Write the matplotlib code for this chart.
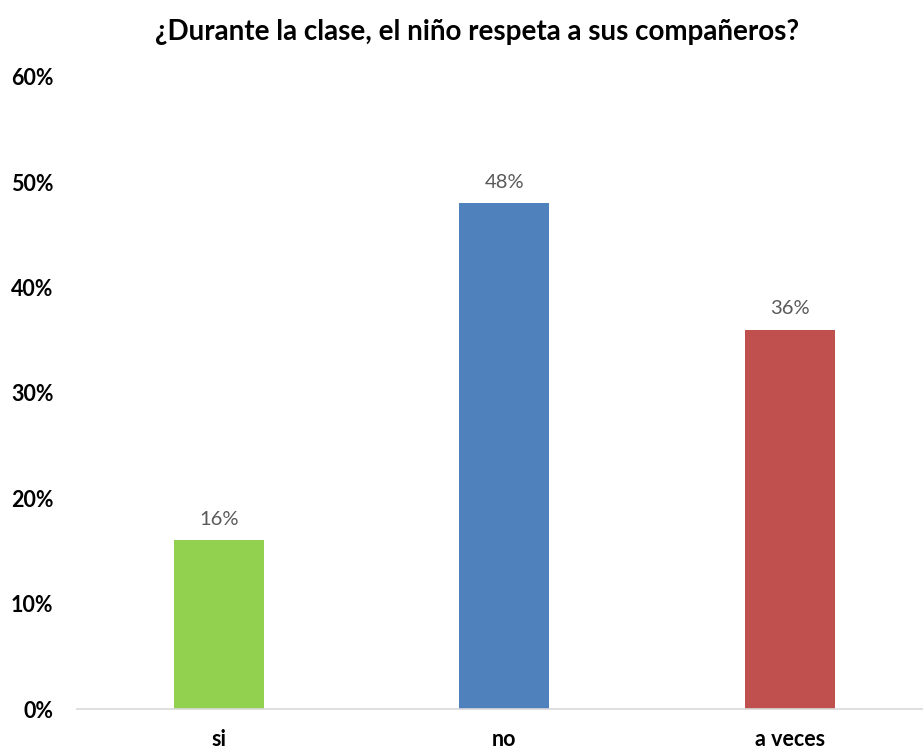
import matplotlib
matplotlib.use("Agg")
import matplotlib.pyplot as plt
from matplotlib.ticker import PercentFormatter

plt.rcParams['font.family'] = ['Lato', 'DejaVu Sans']

# datos de la encuesta
categorias = ["si", "no", "a veces"]
valores = [0.16, 0.48, 0.36]
colores = ["#92D050", "#4F81BD", "#C0504D"]
titulo = "¿Durante la clase, el niño respeta a sus compañeros?"

fig = plt.figure(figsize=(9.23, 7.49), dpi=100)
ax = fig.add_axes([77 / 923, 1 - 709 / 749, 1 - 77 / 923, (709 - 77) / 749])

x = range(len(categorias))
barras = ax.bar(x, valores, width=0.315, color=colores)

for b, v in zip(barras, valores):
    ax.annotate(f"{v:.0%}", (b.get_x() + b.get_width() / 2, v),
                xytext=(0, 9), textcoords="offset points",
                ha="center", va="bottom", fontsize=14.5, color="#595959")

ax.set_xlim(-0.497, 2.466)
ax.set_ylim(0, 0.6)
ax.set_yticks([0, 0.1, 0.2, 0.3, 0.4, 0.5, 0.6])
ax.yaxis.set_major_formatter(PercentFormatter(1.0, decimals=0))
ax.set_xticks(list(x))
ax.set_xticklabels(categorias)

for s in ["top", "right", "left"]:
    ax.spines[s].set_visible(False)
ax.spines["bottom"].set_color("#D9D9D9")
ax.spines["bottom"].set_linewidth(1.2)

ax.tick_params(axis="y", length=0, pad=17, labelsize=15.5)
ax.tick_params(axis="x", length=0, pad=27, labelsize=15.5)
for lbl in ax.get_xticklabels():
    lbl.set_fontweight("bold")
    lbl.set_va("baseline")
for lbl in ax.get_yticklabels():
    lbl.set_fontweight("bold")

fig.text(477 / 923, 1 - 32 / 749, titulo, ha="center", va="center",
         fontsize=20, fontweight="bold")

fig.savefig("out.png", dpi=100)
